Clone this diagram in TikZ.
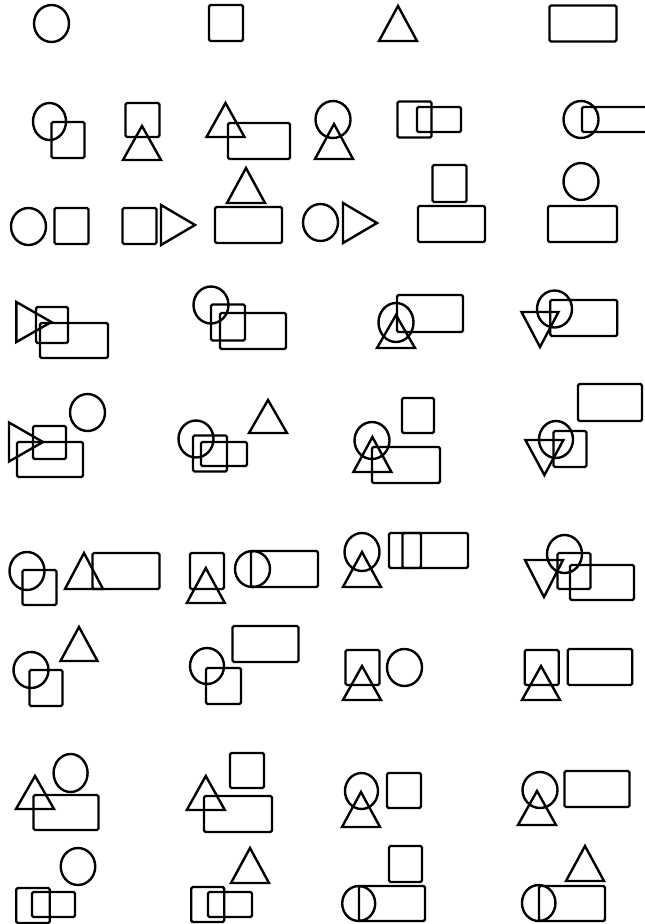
\documentclass[tikz,border=0pt]{standalone}
\usepackage{tikz}
\usetikzlibrary{shapes.geometric}
\tikzset{
  figline/.style  = {draw, line width=2.4pt, inner sep=0pt, outer sep=0pt},
  circ/.style     = {figline, ellipse, minimum width=35pt, minimum height=37pt},
  sq/.style       = {figline, rectangle, rounded corners=1.5pt,
                     minimum width=34pt, minimum height=36pt},
  longbox/.style  = {figline, rectangle, rounded corners=1.5pt,
                     minimum width=67pt, minimum height=36pt},
  shortbox/.style = {figline, rectangle, rounded corners=1.5pt,
                     minimum width=44pt, minimum height=25pt},
  tri/.style      = {figline, isosceles triangle, isosceles triangle stretches,
                     shape border rotate=90, minimum width=38pt, minimum height=35pt,
                     anchor=apex},
  trir/.style     = {tri, shape border rotate=0, minimum width=40pt, minimum height=34pt},
  trid/.style     = {tri, shape border rotate=270},
}

\begin{document}
\begin{tikzpicture}[x=1pt,y=-1pt]
\useasboundingbox (0,0) rectangle (645,924);
% row 1
\node[circ]    (c1) at (51.5,23.5) {};
\node[sq]      (s1) at (226,23) {};
\node[tri]     (t1) at (398,6) {};
\node[longbox] (r1) at (583,23.5) {};
% row 2
\node[circ, minimum width=33pt] (c2a) at (49.5,121.5) {};
\node[sq, minimum width=33pt]   (s2a) at (68,140) {};
\node[sq, minimum height=34pt]  (s2b) at (142.5,120) {};
\node[tri, minimum height=34pt] (t2b) at (142,126) {};
\node[tri, minimum height=34pt] (t2c) at (225.5,103) {};
\node[longbox, minimum width=62pt] (r2c) at (259,141) {};
\node[circ]     (c2d) at (333,119.5) {};
\node[tri]      (t2d) at (334,124) {};
\node[sq]       (s2e) at (414.5,119.5) {};
\node[shortbox] (b2e) at (439,119.5) {};
\node[circ]     (c2f) at (581,119.5) {};
\node[longbox, minimum width=100pt, minimum height=25pt] (r2f) at (632,119.5) {};
% row 3
\node[circ]    (c3a) at (28.5,226.5) {};
\node[sq]      (s3a) at (71.5,226) {};
\node[sq]      (s3b) at (139.5,226) {};
\node[trir]    (t3b) at (195,225) {};
\node[tri]     (t3c) at (246,168) {};
\node[longbox] (r3c) at (248.5,225) {};
\node[circ]    (c3d) at (320.5,222.5) {};
\node[trir]    (t3d) at (377,223) {};
\node[sq, minimum height=37pt] (s3e) at (449.5,183.5) {};
\node[longbox] (r3e) at (451.5,224) {};
\node[circ]    (c3f) at (581,181.5) {};
\node[longbox, minimum width=69pt] (r3f) at (582.5,224) {};
% row 4
\node[trir, minimum height=35pt] (t4a) at (51.4,322) {};
\node[sq, minimum width=32pt]    (s4a) at (52,325) {};
\node[longbox, minimum width=68pt, minimum height=35pt] (r4a) at (74,340.5) {};
\node[circ]    (c4b) at (211,305) {};
\node[sq]      (s4b) at (228,322.5) {};
\node[longbox, minimum width=66pt] (r4b) at (253,331) {};
\node[longbox, minimum width=66pt, minimum height=37pt] (r4c) at (430,313.5) {};
\node[circ, minimum height=39pt] (c4c) at (396,322.5) {};
\node[tri, minimum height=33pt]  (t4c) at (396,315) {};
\node[circ]    (c4d) at (554.5,309) {};
\node[longbox] (r4d) at (583.7,318) {};
\node[trid, minimum width=37pt] (t4d) at (540,347) {};
% row 5
\node[trir, minimum height=34pt, minimum width=39pt] (t5a) at (43,442) {};
\node[sq, minimum width=33pt, minimum height=33pt]   (s5a) at (49.5,442.5) {};
\node[longbox, minimum width=66pt, minimum height=35pt] (r5a) at (50,459.5) {};
\node[circ]    (c5a) at (87.5,412.5) {};
\node[circ]    (c5b) at (196,439) {};
\node[sq]      (s5b) at (210,453.5) {};
\node[shortbox, minimum width=46pt, minimum height=24pt] (b5b) at (224,454) {};
\node[tri, minimum height=33pt] (t5b) at (268,400) {};
\node[circ]    (c5c) at (372,440.5) {};
\node[tri]     (t5c) at (372.4,437) {};
\node[longbox, minimum width=68pt] (r5c) at (406,465) {};
\node[sq, minimum width=32pt, minimum height=35pt] (s5c) at (418,415.5) {};
\node[longbox, minimum width=64pt, minimum height=37pt] (r5d) at (610,402.5) {};
\node[circ, minimum width=34pt] (c5d) at (556,439.5) {};
\node[sq, minimum width=33pt]   (s5d) at (570,449) {};
\node[trid]    (t5d) at (544.4,475) {};
% row 6
\node[circ, minimum height=38pt] (c6a) at (27,571) {};
\node[sq, minimum height=35pt]   (s6a) at (39.5,587.5) {};
\node[tri, minimum height=36pt]  (t6b) at (84,553) {};
\node[longbox] (r6b) at (126,571) {};
\node[sq]      (s6c) at (207,571) {};
\node[tri]     (t6c) at (205.8,568) {};
\node[circ, minimum height=36pt] (c6d) at (252.5,569) {};
\node[longbox] (r6d) at (284.5,569) {};
\node[circ, minimum height=38pt] (c6e) at (362,552) {};
\node[tri]     (t6e) at (362,552) {};
\node[sq, minimum width=32pt, minimum height=35pt] (s6e) at (405,550.5) {};
\node[longbox, minimum width=65.5pt, minimum height=35pt] (r6e) at (435.2,550.5) {};
\node[circ, minimum height=38pt] (c6f) at (564.5,554) {};
\node[trid, minimum height=37pt] (t6f) at (544,597) {};
\node[sq, minimum width=33pt]    (s6f) at (574,571) {};
\node[longbox, minimum width=64pt, minimum height=35pt] (r6f) at (602,582.5) {};
% row 7
\node[circ, minimum height=36pt] (c7a) at (31,670) {};
\node[sq, minimum width=33pt]    (s7a) at (46,688) {};
\node[tri, minimum width=37pt, minimum height=34pt] (t7a) at (79,627) {};
\node[circ, minimum width=34pt, minimum height=36pt] (c7b) at (207,666) {};
\node[sq, minimum width=35pt]    (s7b) at (223.5,686) {};
\node[longbox, minimum width=66pt] (r7b) at (265.5,644) {};
\node[sq, minimum height=35pt]   (s7c) at (362.5,667.5) {};
\node[tri, minimum height=34pt]  (t7c) at (362,666) {};
\node[circ]    (c7c) at (404.5,667.5) {};
\node[sq, minimum height=35pt]   (s7d) at (541.7,667.5) {};
\node[tri, minimum height=34pt]  (t7d) at (541,666) {};
\node[longbox, minimum width=64.5pt] (r7d) at (600,667) {};
% row 8
\node[tri, minimum height=33pt] (t8a) at (35,776) {};
\node[circ, minimum width=34pt, minimum height=38pt] (c8a) at (70.6,773) {};
\node[longbox, minimum width=65pt, minimum height=35pt] (r8a) at (66,812.5) {};
\node[tri, minimum height=34pt] (t8b) at (205.8,776) {};
\node[sq, minimum height=35pt]  (s8b) at (247,770.5) {};
\node[longbox, minimum width=68pt] (r8b) at (238,814) {};
\node[circ, minimum width=33pt, minimum height=36pt] (c8c) at (361.5,791) {};
\node[tri]     (t8c) at (361,792) {};
\node[sq, minimum height=35pt]  (s8c) at (404,790.5) {};
\node[circ, minimum height=36pt] (c8d) at (540,790) {};
\node[tri, minimum height=34pt] (t8d) at (537,791) {};
\node[longbox, minimum width=65pt] (r8d) at (597,789) {};
% row 9
\node[circ, minimum width=34.5pt] (c9a) at (78,866.5) {};
\node[sq, minimum width=33.5pt, minimum height=35pt] (s9a) at (33,905.5) {};
\node[shortbox, minimum width=43pt] (b9a) at (53.5,904.5) {};
\node[tri]     (t9b) at (250,848) {};
\node[sq, minimum width=33pt, minimum height=35pt] (s9b) at (207.7,904.5) {};
\node[shortbox] (b9b) at (230,904.5) {};
\node[sq, minimum width=33pt] (s9c) at (405.5,864) {};
\node[circ, minimum width=33pt, minimum height=35pt] (c9c) at (358.7,903.5) {};
\node[longbox, minimum width=66pt, minimum height=35pt] (r9c) at (392,903.5) {};
\node[tri]     (t9d) at (585,846) {};
\node[circ, minimum width=33.5pt, minimum height=36pt] (c9d) at (538.7,903) {};
\node[longbox, minimum width=66pt, minimum height=35pt] (r9d) at (572,903.5) {};
\end{tikzpicture}
\end{document}
